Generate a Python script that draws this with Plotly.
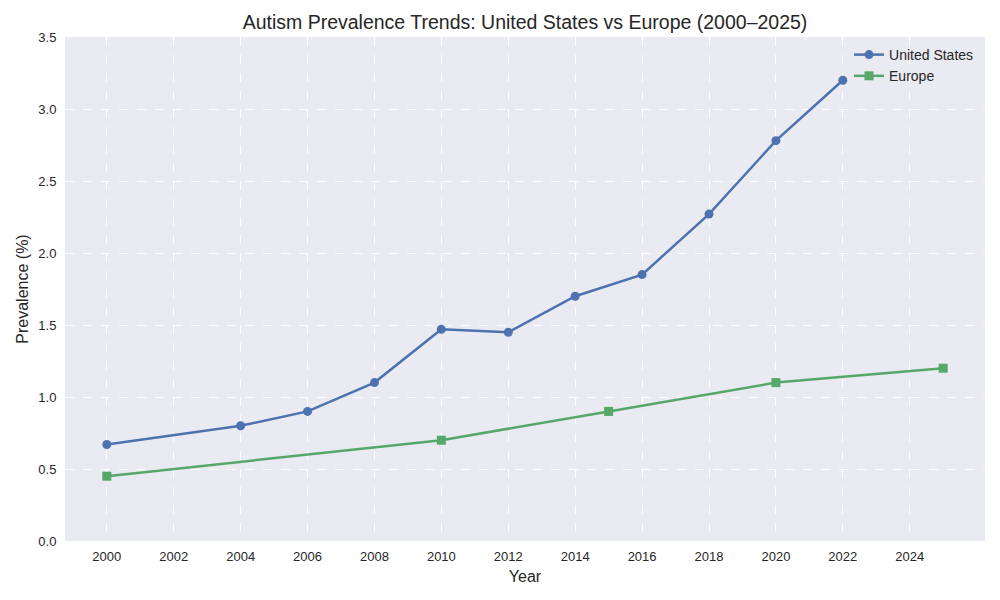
import plotly.graph_objects as go

us_years = [2000, 2004, 2006, 2008, 2010, 2012, 2014, 2016, 2018, 2020, 2022]
us_values = [0.67, 0.80, 0.90, 1.10, 1.47, 1.45, 1.70, 1.85, 2.27, 2.78, 3.20]
eu_years = [2000, 2010, 2015, 2020, 2025]
eu_values = [0.45, 0.70, 0.90, 1.10, 1.20]
x_ticks = list(range(2000, 2025, 2))
y_ticks = [0.0, 0.5, 1.0, 1.5, 2.0, 2.5, 3.0, 3.5]

font = "Liberation Sans, Arial, sans-serif"
text_color = "#262626"

fig = go.Figure()
fig.add_trace(go.Scatter(
    x=us_years, y=us_values, mode="lines+markers", name="United States",
    line=dict(color="#4C72B0", width=2.5),
    marker=dict(symbol="circle", size=9, color="#4C72B0"),
))
fig.add_trace(go.Scatter(
    x=eu_years, y=eu_values, mode="lines+markers", name="Europe",
    line=dict(color="#55A868", width=2.5),
    marker=dict(symbol="square", size=9, color="#55A868"),
))

fig.update_layout(
    width=1000, height=600,
    margin=dict(l=57, r=23, t=29, b=67, autoexpand=False),
    paper_bgcolor="white", plot_bgcolor="#EAEAF2",
    font=dict(family=font, size=13, color=text_color),
    title=dict(text="Autism Prevalence Trends: United States vs Europe (2000–2025)",
               x=0.5, xref="paper", xanchor="center", y=0.977, yanchor="middle",
               font=dict(size=19.5, color=text_color)),
    legend=dict(x=0.9935, y=0.996, xanchor="right", yanchor="top",
                bgcolor="rgba(0,0,0,0)", borderwidth=0,
                font=dict(size=14, color=text_color)),
    xaxis=dict(range=[1998.75, 2026.25], tickvals=x_ticks,
               ticktext=[str(t) for t in x_ticks],
               showgrid=True, gridcolor="white", griddash="dash", gridwidth=1,
               zeroline=False, showline=False, automargin=False,
               ticks="outside", ticklen=3, tickcolor="rgba(0,0,0,0)",
               title=dict(text="Year", font=dict(size=16, color=text_color), standoff=8)),
    yaxis=dict(range=[0, 3.5], tickvals=y_ticks,
               ticktext=[f"{t:.1f}" for t in y_ticks],
               showgrid=True, gridcolor="white", griddash="dash", gridwidth=1,
               zeroline=False, showline=False, automargin=False,
               ticks="outside", ticklen=5, tickcolor="rgba(0,0,0,0)",
               title=dict(text="Prevalence (%)", font=dict(size=16, color=text_color), standoff=5)),
)

fig.write_html("out.html")
